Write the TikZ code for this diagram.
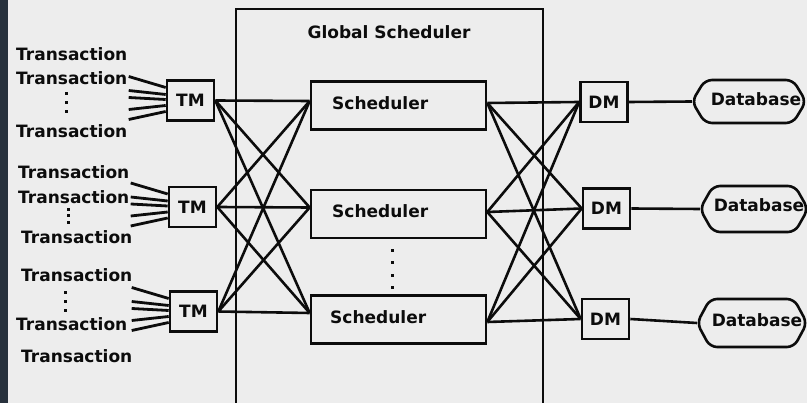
\documentclass[tikz,border=0pt]{standalone}
\usepackage{fontspec}
\setmainfont{DejaVu Sans}
\usetikzlibrary{calc}
\definecolor{paper}{HTML}{EDEDED}
\definecolor{strip}{HTML}{27313C}
\definecolor{ink}{HTML}{0C0C0C}
\tikzset{
  lbl/.style={inner sep=0pt, text=ink, font=\fontsize{17}{20}\bfseries\selectfont},
  box/.style={draw=ink, line width=2.6pt, rectangle, inner sep=0pt,
    minimum width=47pt, minimum height=40pt, text=ink,
    font=\fontsize{17}{20}\bfseries\selectfont},
  schedbox/.style={box, minimum width=175pt, minimum height=48pt},
  wire/.style={draw=ink, line width=2.6pt},
  fan/.style={draw=ink, line width=2.8pt},
  dot/.style={fill=ink}
}
\begin{document}
\begin{tikzpicture}[x=1pt,y=-1pt]
\useasboundingbox (0,0) rectangle (807,403);
\clip (0,0) rectangle (807,403);
% paper and dark left margin
\fill[paper] (0,0) rectangle (807,403);
\fill[strip] (0,0) rectangle (8,403);

% global scheduler frame
\draw[wire] (236,9) rectangle (543,430);
\node[lbl] (gs) at (389,32) {Global Scheduler};

% transaction managers
\node[box] (tm1) at (190.5,100.5) {TM};
\node[box] (tm2) at (192.5,207) {TM};
\node[box] (tm3) at (193.5,311.5) {TM};

% local schedulers
\node[schedbox] (s1) at (398.5,105.5) {};
\node[schedbox] (s2) at (398.5,214) {};
\node[schedbox] (s3) at (398.5,319.5) {};
\node[lbl, anchor=west] (s1t) at (332,103) {Scheduler};
\node[lbl, anchor=west] (s2t) at (332,211) {Scheduler};
\node[lbl, anchor=west] (s3t) at (330,317) {Scheduler};
\foreach \y in {249,261.5,274,286} \fill[dot] (391,\y) rectangle (394,\y+3);

% data managers
\node[box] (dm1) at (604,102) {DM};
\node[box] (dm2) at (606.5,208.5) {DM};
\node[box] (dm3) at (605.5,319) {DM};

% databases
\foreach \n/\l/\r/\t/\b in {1/692/806/80/123, 2/700/808/186/232, 3/697/807/299/347}{
  \coordinate (db\n w) at (\l,{(\t+\b)/2});
  \draw[wire, rounded corners=7pt] (db\n w) -- (\l+13,\t) -- (\r-13,\t) -- (\r,{(\t+\b)/2})
    -- (\r-13,\b) -- (\l+13,\b) -- cycle;
}
\node[lbl] (db1) at (756,99.5) {Database};
\node[lbl] (db2) at (759,205.5) {Database};
\node[lbl] (db3) at (757,320.5) {Database};

% transactions
\node[lbl, anchor=west] (t11) at (16,54) {Transaction};
\node[lbl, anchor=west] (t12) at (16,78) {Transaction};
\node[lbl, anchor=west] (t13) at (16,131) {Transaction};
\node[lbl, anchor=west] (t21) at (18,172) {Transaction};
\node[lbl, anchor=west] (t22) at (18,197) {Transaction};
\node[lbl, anchor=west] (t23) at (21,237) {Transaction};
\node[lbl, anchor=west] (t31) at (21,275) {Transaction};
\node[lbl, anchor=west] (t32) at (16,324) {Transaction};
\node[lbl, anchor=west] (t33) at (21,356) {Transaction};
\foreach \x/\y in {65/92, 65/101, 65/110, 67/208, 67/214.5, 67/221, 64/291, 64/300, 64/309}
  \fill[dot] (\x,\y) rectangle (\x+3,\y+2.6);

% transaction fans into each TM
\foreach \t in {tm1,tm2,tm3}{
  \foreach \a/\b in {-24/-13, -10/-6, -3/-1, 9/5, 19/11}
    \draw[fan] ($(\t.west)+(-37,\a)$) -- ($(\t.west)+(0,\b)$);
}

% ports on the schedulers
\coordinate (s1i) at ($(s1.west)+(0,-4.5)$);
\coordinate (s2i) at ($(s2.west)+(0,-6.5)$);
\coordinate (s3i) at ($(s3.west)+(0,-6.5)$);
\coordinate (s1o) at ($(s1.east)+(0,-2.5)$);
\coordinate (s2o) at ($(s2.east)+(0,-2)$);
\coordinate (s3o) at ($(s3.east)+(0,2.5)$);

% every TM talks to every scheduler
\foreach \t in {tm1,tm2,tm3}
  \foreach \s in {s1i,s2i,s3i}
    \draw[wire] (\t.east) -- (\s);

% every scheduler talks to every DM
\foreach \s in {s1o,s2o,s3o}
  \foreach \d in {dm1,dm2,dm3}
    \draw[wire] (\s) -- (\d.west);

% DMs to their databases
\draw[wire] (dm1.east) -- (db1w);
\draw[wire] (dm2.east) -- (db2w);
\draw[wire] (dm3.east) -- (db3w);
\end{tikzpicture}
\end{document}
